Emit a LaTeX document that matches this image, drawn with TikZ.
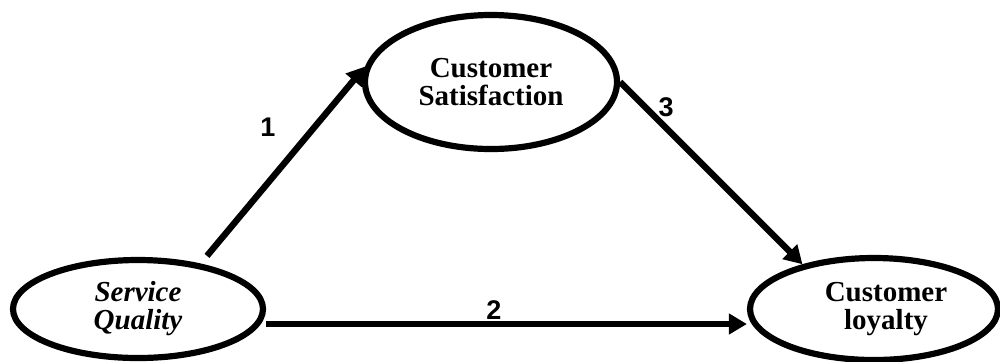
\documentclass[tikz,border=0pt]{standalone}
\usepackage{fontspec}
\setmainfont{Liberation Serif}
\newfontfamily\numfont{Liberation Sans}
\usetikzlibrary{shapes.geometric,arrows.meta}
\begin{document}
\begin{tikzpicture}[x=0.5pt,y=-0.5pt,
  construct/.style={draw=black,line width=3.1pt,ellipse,inner sep=0pt,align=center,
    font=\fontsize{14.5}{14}\selectfont\bfseries},
  path/.style={line width=3.2pt,-{Triangle[length=9pt,width=10pt]}},
  num/.style={font=\numfont\fontsize{13.5}{14}\selectfont\bfseries}]
\useasboundingbox (0,0) rectangle (1000,361);
\node[construct,minimum width=125pt,minimum height=49pt] (sq) at (138,309) {\itshape Service\\\itshape Quality};
\node[construct,minimum width=126pt,minimum height=67pt] (cs) at (491,82) {Customer\\Satisfaction};
\node[construct,minimum width=124pt,minimum height=51pt,
  label={[font=\fontsize{14.5}{14}\selectfont\bfseries,align=center,xshift=6pt]center:Customer\\loyalty}] (cl) at (874,309) {};
\draw[path,shorten <=5pt] (sq.36.5) -- (cs.173);
\draw[path] (cs.0) -- (cl.148);
\draw[path] ([yshift=-7.5pt]sq.east) -- ([yshift=-7.5pt]cl.west);
\node[num] (n1) at (268,127) {1};
\node[num] (n2) at (494,310) {2};
\node[num] (n3) at (666,107) {3};
\end{tikzpicture}
\end{document}
